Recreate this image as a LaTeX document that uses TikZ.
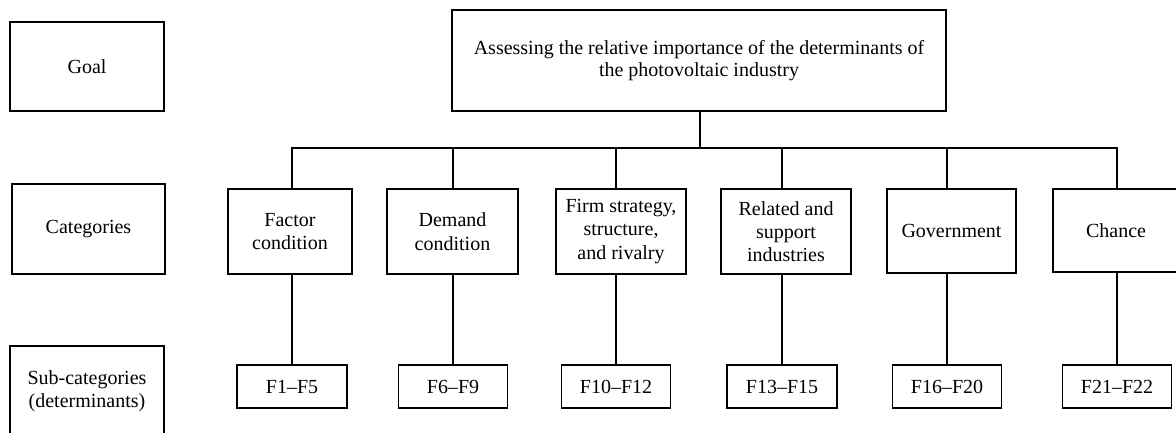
\documentclass[tikz,border=0pt]{standalone}
\usepackage{fontspec}
\setmainfont{Liberation Serif}
\begin{document}
\begin{tikzpicture}[x=0.75pt,y=-0.75pt,
  box/.style={draw,line width=1.05pt,rectangle,inner sep=0pt,align=center,
    font=\fontsize{15}{17.5}\selectfont},
  link/.style={line width=1.05pt}]
\useasboundingbox (0,0) rectangle (1176,432);
\clip (0,0) rectangle (1176,432);
% level labels
\node[box,minimum width=154*0.75pt,minimum height=89*0.75pt] (lg) at (87,66.5) {Goal};
\node[box,minimum width=153*0.75pt,minimum height=90*0.75pt] (lc) at (88.5,229) {Categories};
\node[box,minimum width=154*0.75pt,minimum height=91*0.75pt] (ls) at (87,391.5) {Sub-categories\\(determinants)};
% goal
\node[box,minimum width=494*0.75pt,minimum height=101*0.75pt,font=\fontsize{15}{16.5}\selectfont] (main) at (699,60.5)
  {Assessing the relative importance of the determinants of\\the photovoltaic industry};
% categories
\node[box,minimum width=124*0.75pt,minimum height=85*0.75pt] (c1) at (290,231.5) {Factor\\condition};
\node[box,minimum width=131*0.75pt,minimum height=85*0.75pt] (c2) at (452.5,231.5) {Demand\\condition};
\node[box,minimum width=130*0.75pt,minimum height=85*0.75pt] (c3) at (621,231.5) {Firm strategy,\\structure,\\and rivalry};
\node[box,minimum width=130*0.75pt,minimum height=85*0.75pt] (c4) at (786,231.5) {Related and\\support\\industries};
\node[box,minimum width=129*0.75pt,minimum height=84*0.75pt] (c5) at (951.5,231) {Government};
\node[box,minimum width=126*0.75pt,minimum height=83*0.75pt] (c6) at (1116,230.5) {Chance};
% sub-categories
\node[box,minimum width=110*0.75pt,minimum height=43*0.75pt] (s1) at (292,386.5) {F1--F5};
\node[box,minimum width=109*0.75pt,minimum height=43*0.75pt] (s2) at (453,386.5) {F6--F9};
\node[box,minimum width=109*0.75pt,minimum height=43*0.75pt] (s3) at (616,386.5) {F10--F12};
\node[box,minimum width=110*0.75pt,minimum height=43*0.75pt] (s4) at (782,386.5) {F13--F15};
\node[box,minimum width=109*0.75pt,minimum height=43*0.75pt] (s5) at (947,386.5) {F16--F20};
\node[box,minimum width=109*0.75pt,minimum height=43*0.75pt] (s6) at (1117,386.5) {F21--F22};
% connectors
\coordinate (bus) at (700,148);
\draw[link] (main.south -| bus) -- (bus);
\draw[link] (s1 |- c1.north) |- (s6 |- bus) -- (s6 |- c6.north);
\foreach \i in {2,3,4,5} {\draw[link] (s\i |- bus) -- (s\i |- c\i.north);}
\foreach \i in {1,...,6} {\draw[link] (s\i |- c\i.south) -- (s\i.north);}
\end{tikzpicture}
\end{document}
